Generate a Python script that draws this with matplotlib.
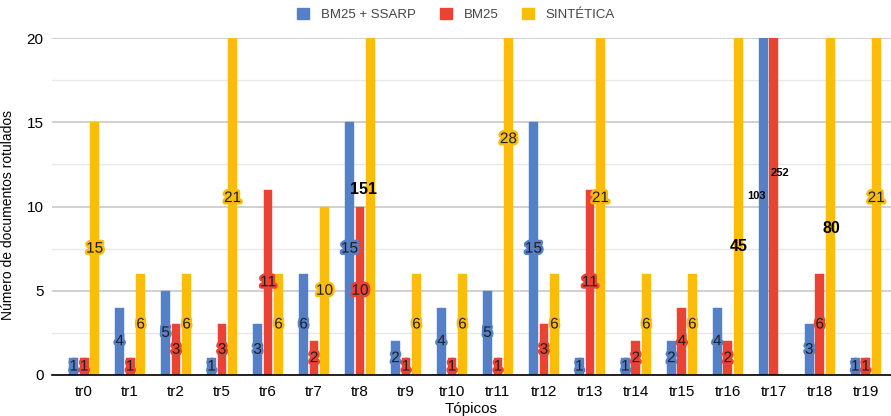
import matplotlib
matplotlib.use("Agg")
import matplotlib.pyplot as plt
import matplotlib.patheffects as pe
from matplotlib.patches import Patch
import numpy as np

plt.rcParams['font.family'] = ['Liberation Sans', 'DejaVu Sans']

categories = ["tr0", "tr1", "tr2", "tr5", "tr6", "tr7", "tr8", "tr9", "tr10",
              "tr11", "tr12", "tr13", "tr14", "tr15", "tr16", "tr17", "tr18", "tr19"]
bm25_ssarp = [1, 4, 5, 1, 3, 6, 15, 2, 4, 5, 15, 1, 1, 2, 4, 103, 3, 1]
bm25 = [1, 1, 3, 3, 11, 2, 10, 1, 1, 1, 3, 11, 2, 4, 2, 252, 6, 1]
sintetica = [15, 6, 6, 21, 6, 10, 151, 6, 6, 28, 6, 21, 6, 6, 45, 0, 80, 21]
series_names = ["BM25 + SSARP", "BM25", "SINTÉTICA"]

colors = ["#5580C6", "#EA4335", "#FBBC0B"]
YMAX = 20
# positions (x offset in bar units, y, font size) for labels of values far beyond the axis
overflow_label_pos = {
    (0, 15): (-0.6, 10.6, 8),
    (1, 15): (0.6, 12.0, 8),
    (2, 6): (-0.7, 11.0, 11.5),
    (2, 14): (0.0, 7.6, 11.5),
    (2, 16): (0.1, 8.7, 11.5),
}

fig = plt.figure(figsize=(8.91, 4.16), dpi=100)
ax = fig.add_axes([52 / 891, 1 - 375 / 416, 1 - 52 / 891, (375 - 38) / 416])

x = np.arange(len(categories))
step = 0.228
width = 0.19
all_series = [bm25_ssarp, bm25, sintetica]

for si, vals in enumerate(all_series):
    xs = x + (si - 1) * step
    clipped = [min(v, YMAX) for v in vals]
    ax.bar(xs, clipped, width=width, color=colors[si], zorder=3,
           edgecolor=colors[si], linewidth=0.3)
    for ci, v in enumerate(vals):
        if v == 0:
            continue
        key = (si, ci)
        if key in overflow_label_pos:
            dx, yy, fs = overflow_label_pos[key]
            ax.text(xs[ci] + dx * step, yy, str(v), ha='center', va='center',
                    fontsize=fs, fontweight='bold', color='black', zorder=6)
        else:
            ax.text(xs[ci], v / 2, str(v), ha='center', va='center',
                    fontsize=11, color='#1e1e1e', zorder=5,
                    path_effects=[pe.Stroke(linewidth=3.5, foreground=colors[si]),
                                  pe.Normal()])

ax.set_ylim(0, YMAX)
ax.set_xlim(-0.7, 17.55)
ax.set_yticks([0, 5, 10, 15, 20])
ax.set_yticks([2.5, 7.5, 12.5, 17.5], minor=True)
ax.set_xticks(x)
ax.set_xticklabels(categories, fontsize=11)
ax.tick_params(axis='y', labelsize=11, length=0, pad=6, which='both')
ax.tick_params(axis='x', length=0, pad=7)
ax.grid(axis='y', which='major', color='#c8c8c8', linewidth=1.2, zorder=0)
ax.grid(axis='y', which='minor', color='#e8e8e8', linewidth=1.0, zorder=0)
for s in ['top', 'right', 'left']:
    ax.spines[s].set_visible(False)
ax.spines['bottom'].set_color('black')
ax.spines['bottom'].set_linewidth(1.2)
ax.spines['bottom'].set_zorder(4)
ax.set_axisbelow(True)

ax.set_ylabel("Número de documentos rotulados", fontsize=10)
ax.yaxis.set_label_coords(-37 / 839, 0.475)
ax.set_xlabel("Tópicos", fontsize=11, labelpad=2)

handles = [Patch(facecolor=c, edgecolor=c) for c in colors]
fig.legend(handles, series_names, loc='center', bbox_to_anchor=(0.512, 0.966),
           ncol=3, frameon=False, fontsize=9.5, handlelength=0.9, handleheight=0.9,
           columnspacing=1.8, handletextpad=0.9, labelcolor='#444444')

fig.savefig("out.png", dpi=100)
